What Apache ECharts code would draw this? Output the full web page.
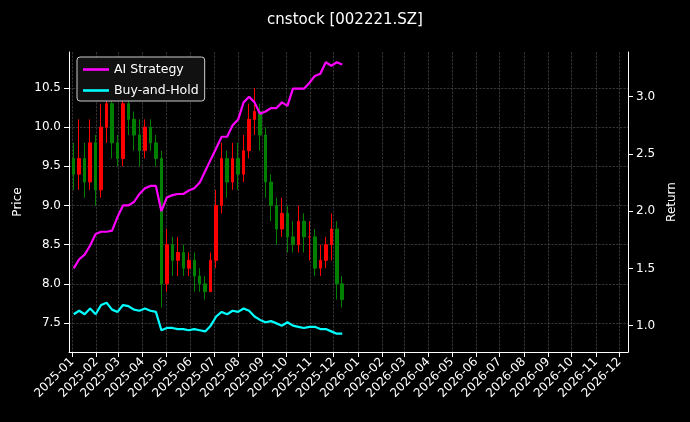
<!DOCTYPE html>
<html><head><meta charset="utf-8">
<script src="https://cdn.jsdelivr.net/npm/echarts@6/dist/echarts.min.js"></script>
<style>html,body{margin:0;background:#000}#c{width:690px;height:422px}</style>
</head><body><div id="c"></div>
<script>
const dates=['2025-01-03','2025-01-10','2025-01-17','2025-01-24','2025-01-31','2025-02-07','2025-02-14','2025-02-21','2025-02-28','2025-03-07','2025-03-14','2025-03-21','2025-03-28','2025-04-04','2025-04-11','2025-04-18','2025-04-25','2025-05-02','2025-05-09','2025-05-16','2025-05-23','2025-05-30','2025-06-06','2025-06-13','2025-06-20','2025-06-27','2025-07-04','2025-07-11','2025-07-18','2025-07-25','2025-08-01','2025-08-08','2025-08-15','2025-08-22','2025-08-29','2025-09-05','2025-09-12','2025-09-19','2025-09-26','2025-10-03','2025-10-10','2025-10-17','2025-10-24','2025-10-31','2025-11-07','2025-11-14','2025-11-21','2025-11-28','2025-12-05','2025-12-12'];
const open =[9.6,9.4,9.6,9.3,9.8,9.2,10.0,10.3,9.8,9.6,10.3,10.1,9.9,9.7,10.0,9.8,9.6,8.0,8.5,8.3,8.4,8.2,8.3,8.1,8.0,7.9,8.3,9.0,9.6,9.3,9.6,9.4,9.7,10.1,10.2,9.9,9.3,9.0,8.7,8.9,8.6,8.5,8.8,8.6,8.6,8.2,8.3,8.5,8.7,8.0];
const close=[9.4,9.6,9.3,9.8,9.2,10.0,10.3,9.8,9.6,10.3,10.1,9.9,9.7,10.0,9.8,9.6,8.0,8.5,8.3,8.4,8.2,8.3,8.1,8.0,7.9,8.3,9.0,9.6,9.3,9.6,9.4,9.7,10.1,10.2,9.9,9.3,9.0,8.7,8.9,8.6,8.5,8.8,8.6,8.6,8.2,8.3,8.5,8.7,8.0,7.8];
const low  =[9.2,9.2,9.1,9.2,9.0,9.1,9.8,9.6,9.5,9.5,9.9,9.7,9.5,9.6,9.7,9.5,7.7,7.9,8.1,8.1,8.1,8.1,7.9,7.9,7.8,7.9,8.2,8.9,9.1,9.2,9.2,9.3,9.6,9.9,9.7,9.1,8.8,8.5,8.6,8.4,8.4,8.4,8.4,8.3,8.1,8.1,8.2,8.3,7.8,7.7];
const high =[9.8,10.1,9.8,10.1,9.9,10.3,10.6,10.4,9.9,10.5,10.4,10.2,10.1,10.1,10.1,9.9,9.7,8.7,8.6,8.6,8.5,8.4,8.4,8.2,8.1,8.4,9.2,9.8,9.7,9.8,9.8,9.9,10.3,10.5,10.3,10.0,9.4,9.1,9.1,9.0,8.8,9.0,8.9,8.8,8.7,8.5,8.6,8.9,8.8,8.1];
const strategy=[1.50,1.58,1.62,1.70,1.80,1.82,1.82,1.83,1.95,2.05,2.05,2.08,2.15,2.20,2.22,2.22,2.00,2.12,2.14,2.15,2.15,2.18,2.20,2.25,2.35,2.45,2.55,2.65,2.65,2.75,2.80,2.95,3.00,2.95,2.85,2.87,2.90,2.90,2.95,2.92,3.07,3.07,3.07,3.12,3.18,3.20,3.30,3.27,3.30,3.28];
const buyhold=[1.10,1.13,1.10,1.15,1.10,1.18,1.20,1.14,1.12,1.18,1.17,1.14,1.13,1.15,1.13,1.12,0.96,0.98,0.98,0.97,0.97,0.96,0.97,0.96,0.95,1.00,1.08,1.12,1.10,1.13,1.12,1.15,1.13,1.08,1.05,1.03,1.04,1.02,1.00,1.03,1.00,0.99,0.98,0.99,0.99,0.97,0.97,0.95,0.93,0.93];
const priceTicks=[7.5,8.0,8.5,9.0,9.5,10.0,10.5];
const returnTicks=[1.0,1.5,2.0,2.5,3.0];

const candle=dates.map((d,i)=>[d,open[i],close[i],low[i],high[i]]);
const split={show:true,lineStyle:{color:'#555',type:'dashed',width:0.6}};
const ax={color:'#fff'};
const chart=echarts.init(document.getElementById('c'));
chart.setOption({
  backgroundColor:'#000',animation:false,
  title:{text:'cnstock [002221.SZ]',left:'center',top:8,textStyle:{color:'#fff',fontSize:15,fontWeight:'normal',fontFamily:'DejaVu Sans'}},
  grid:{left:69,right:62,top:52,bottom:70},
  legend:{orient:'vertical',left:77,top:57,backgroundColor:'#111',borderColor:'#ccc',borderWidth:1,borderRadius:3,padding:[6,6,4,6],itemGap:8,
    itemWidth:26,textStyle:{color:'#fff',fontSize:12.5,fontFamily:'DejaVu Sans'},data:[{name:'AI Strategy',icon:'path://M0,0L10,0L10,1L0,1Z'},{name:'Buy-and-Hold',icon:'path://M0,0L10,0L10,1L0,1Z'}]},
  xAxis:{type:'time',min:'2024-12-28',max:'2026-12-12',minInterval:27*86400000,maxInterval:32*86400000,
    axisLine:{lineStyle:ax},axisTick:{lineStyle:ax},splitLine:split,
    axisLabel:{color:'#fff',rotate:45,fontSize:12,fontFamily:'DejaVu Sans',formatter:'{yyyy}-{MM}',hideOverlap:false}},
  yAxis:[
    {type:'value',min:7.13,max:10.96,name:'Price',nameLocation:'middle',nameGap:45,nameTextStyle:{color:'#fff',fontSize:12,fontFamily:'DejaVu Sans'},
     axisLine:{show:true,lineStyle:ax},axisTick:{show:true,customValues:priceTicks,lineStyle:ax},splitLine:split,
     axisLabel:{color:'#fff',fontSize:12,fontFamily:'DejaVu Sans',customValues:priceTicks,formatter:v=>v.toFixed(1)}},
    {type:'value',min:0.77,max:3.39,name:'Return',nameLocation:'middle',nameGap:38,nameTextStyle:{color:'#fff',fontSize:12,fontFamily:'DejaVu Sans'},
     axisLine:{show:true,lineStyle:ax},splitLine:{show:false},
     axisLabel:{color:'#fff',fontSize:12,fontFamily:'DejaVu Sans',customValues:returnTicks,formatter:v=>v.toFixed(1)},axisTick:{show:true,customValues:returnTicks,lineStyle:ax}}
  ],
  series:[
    {type:'candlestick',name:'Price',data:candle,barMaxWidth:3,itemStyle:{color:'#ff0000',color0:'#008000',borderColor:'#ff0000',borderColor0:'#008000'}},
    {type:'line',name:'AI Strategy',yAxisIndex:1,data:dates.map((d,i)=>[d,strategy[i]]),showSymbol:false,lineStyle:{color:'#ff00ff',width:2.2},itemStyle:{color:'#ff00ff'}},
    {type:'line',name:'Buy-and-Hold',yAxisIndex:1,data:dates.map((d,i)=>[d,buyhold[i]]),showSymbol:false,lineStyle:{color:'#00ffff',width:2.2},itemStyle:{color:'#00ffff'}}
  ]
});
</script></body></html>
